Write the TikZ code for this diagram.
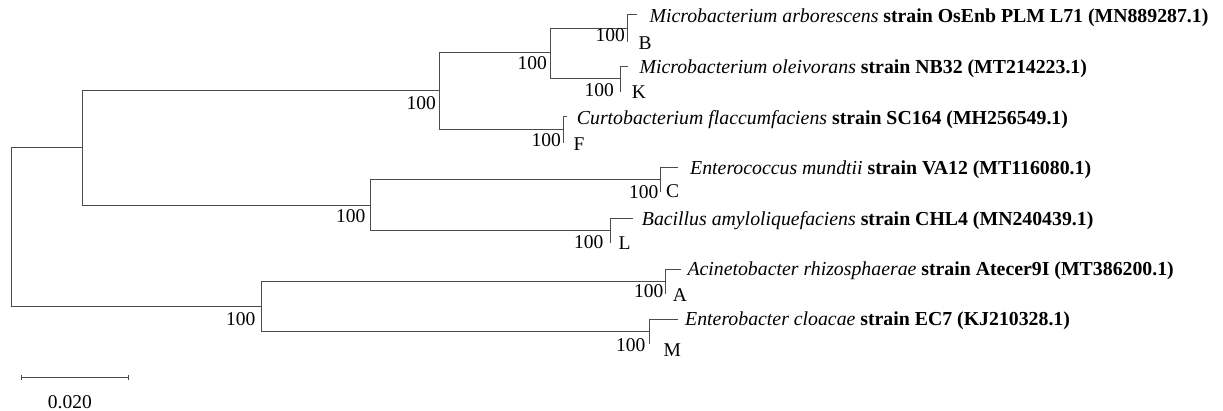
\documentclass[tikz,border=0pt]{standalone}
\usepackage{fontspec}
\setmainfont{Liberation Serif}
\begin{document}
\begin{tikzpicture}[x=1pt,y=-1pt,
  branch/.style={draw=black!70, line width=1pt},
  support/.style={anchor=base east, inner sep=0pt, font=\fontsize{19.5}{19.5}\selectfont},
  leafletter/.style={anchor=base west, inner sep=0pt, font=\fontsize{19.5}{19.5}\selectfont},
  taxon/.style={anchor=base west, inner sep=0pt, font=\fontsize{19.8}{19.8}\selectfont}]
\useasboundingbox (0,0) rectangle (1223,411);
% internal nodes
\coordinate (root) at (11.7,227.2);
\coordinate (n1) at (82.7,147.7);
\coordinate (n2) at (439,90.7);
\coordinate (n3) at (550,52.7);
\coordinate (n4) at (370,205.3);
\coordinate (n5) at (261.7,306.7);
\coordinate (nB) at (627.3,28.3);
\coordinate (nK) at (620.7,79);
\coordinate (nF) at (563.3,130);
\coordinate (nC) at (660,180);
\coordinate (nL) at (610,230.7);
\coordinate (nA) at (665.7,281.7);
\coordinate (nM) at (649.3,332);
% leaves (top = named taxon, bottom = zero-length isolate)
\coordinate (tB) at (637.3,15);    \coordinate (bB) at (627.3,41.6);
\coordinate (tK) at (628,66.3);  \coordinate (bK) at (620.7,91.7);
\coordinate (tF) at (567,117);   \coordinate (bF) at (563.3,143);
\coordinate (tC) at (678.3,168); \coordinate (bC) at (660,192);
\coordinate (tL) at (633.3,218.3); \coordinate (bL) at (610,243.1);
\coordinate (tA) at (681,269.3); \coordinate (bA) at (665.7,294);
\coordinate (tM) at (678.3,320); \coordinate (bM) at (649.3,344);
% branches
\draw[branch] (root) |- (n1);
\draw[branch] (root) |- (n5);
\draw[branch] (n1) |- (n2);
\draw[branch] (n1) |- (n4);
\draw[branch] (n2) |- (n3);
\draw[branch] (n2) |- (nF);
\draw[branch] (n3) |- (nB);
\draw[branch] (n3) |- (nK);
\draw[branch] (n4) |- (nC);
\draw[branch] (n4) |- (nL);
\draw[branch] (n5) |- (nA);
\draw[branch] (n5) |- (nM);
\foreach \n in {B,K,F,C,L,A,M}{
  \draw[branch] (n\n) |- (t\n);
  \draw[branch] (n\n) -- (b\n);
}
% bootstrap values
\node[support] (s2) at (436,110) {100};
\node[support] (s3) at (547,70) {100};
\node[support] (s4) at (365.5,222.7) {100};
\node[support] (s5) at (255.5,325.7) {100};
\node[support] (sB) at (625,41.7) {100};
\node[support] (sK) at (614,96.5) {100};
\node[support] (sF) at (561,146.7) {100};
\node[support] (sC) at (658.5,198.3) {100};
\node[support] (sL) at (603.5,249) {100};
\node[support] (sA) at (663.5,297.3) {100};
\node[support] (sM) at (645.5,352) {100};
% isolate letters
\node[leafletter] (lB) at (638.3,49.3) {B};
\node[leafletter] (lK) at (631.7,99) {K};
\node[leafletter] (lF) at (573.3,150.5) {F};
\node[leafletter] (lC) at (666,197.7) {C};
\node[leafletter] (lL) at (618.3,250) {L};
\node[leafletter] (lA) at (672.7,301.7) {A};
\node[leafletter] (lM) at (663.3,356.7) {M};
% taxon names
\node[taxon] (xB) at (649.3,23) {\textit{Microbacterium arborescens} \textbf{strain OsEnb PLM L71 (MN889287.1)}};
\node[taxon] (xK) at (639.3,74) {\textit{Microbacterium oleivorans} \textbf{strain NB32 (MT214223.1)}};
\node[taxon] (xF) at (576.7,124.5) {\textit{Curtobacterium flaccumfaciens} \textbf{strain SC164 (MH256549.1)}};
\node[taxon] (xC) at (690,175) {\textit{Enterococcus mundtii} \textbf{strain VA12 (MT116080.1)}};
\node[taxon] (xL) at (641.7,225.5) {\textit{Bacillus amyloliquefaciens} \textbf{strain CHL4 (MN240439.1)}};
\node[taxon] (xA) at (687.3,275.5) {\textit{Acinetobacter rhizosphaerae} \textbf{strain Atecer9I (MT386200.1)}};
\node[taxon] (xM) at (685,326) {\textit{Enterobacter cloacae} \textbf{strain EC7 (KJ210328.1)}};
% scale bar
\coordinate (sb1) at (21,377.3);
\coordinate (sb2) at (128.3,377.3);
\draw[branch] (sb1) -- (sb2);
\draw[branch] ([yshift=-2.5pt]sb1) -- ([yshift=2.5pt]sb1);
\draw[branch] ([yshift=-2.5pt]sb2) -- ([yshift=2.5pt]sb2);
\node[leafletter] (sbl) at (47.7,408) {0.020};
\end{tikzpicture}
\end{document}
